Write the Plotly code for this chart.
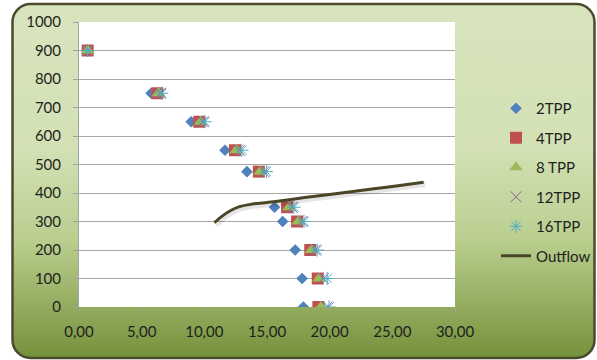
import base64
import plotly.graph_objects as go

# ---- data ----
depth = [900, 750, 650, 550, 475, 350, 300, 200, 100, 0]
tpp2 = [0.69, 5.75, 8.95, 11.65, 13.40, 15.60, 16.25, 17.25, 17.80, 17.90]
tpp4 = [0.69, 6.25, 9.60, 12.45, 14.35, 16.60, 17.40, 18.45, 19.05, 19.10]
tpp8 = [0.69, 6.35, 9.70, 12.55, 14.45, 16.75, 17.50, 18.55, 19.15, 19.30]
tpp12 = [0.69, 6.50, 9.90, 12.80, 14.75, 17.00, 17.80, 18.85, 19.50, 19.80]
tpp16 = [0.69, 6.60, 10.05, 13.00, 14.95, 17.15, 17.95, 19.00, 19.80, 19.95]
outflow_x = [10.8, 11.4, 12.0, 12.8, 13.8, 15.0, 16.0, 18.0, 20.0, 22.0, 25.0, 27.5]
outflow_y = [296, 318, 336, 352, 361, 367, 372, 384, 395, 406, 423, 438]
x_ticks = [0, 5, 10, 15, 20, 25, 30]
y_ticks = list(range(0, 1001, 100))

W, H = 597, 360
ML, MR, MT, MB = 79, 142, 22, 53
PW, PH = W - ML - MR, H - MT - MB

FONT = "Lato, 'Open Sans', sans-serif"

svg = f'''<svg xmlns="http://www.w3.org/2000/svg" width="{W}" height="{H}" viewBox="0 0 {W} {H}">
<defs><linearGradient id="g" x1="0" y1="0" x2="0" y2="1">
<stop offset="0" stop-color="#d8e4bd"/>
<stop offset="0.4" stop-color="#d3e1b5"/>
<stop offset="0.67" stop-color="#b9ce8e"/>
<stop offset="1" stop-color="#74913a"/>
</linearGradient></defs>
<rect x="12.5" y="4" width="{W-15}" height="{H-6}" rx="18" ry="18" fill="url(#g)" stroke="#4c4a2e" stroke-width="2.5"/>
</svg>'''
src = "data:image/svg+xml;base64," + base64.b64encode(svg.encode()).decode()

fig = go.Figure()

def add(name, xs, symbol, color, size, group, lw=0, lc=None):
    fig.add_trace(go.Scatter(
        x=xs, y=depth, mode="markers", name=name, legendgroup=group,
        marker=dict(symbol=symbol, color=color, size=size,
                    line=dict(width=lw, color=lc or color))))

add("2TPP", tpp2, "diamond", "#4f81bd", 9, "a")
add("4TPP", tpp4, "square", "#c0504d", 12, "b")
add("8 TPP", tpp8, "triangle-up", "#9bbb59", 12, "c")
add("12TPP", tpp12, "x-thin-open", "#8064a2", 11, "d", lw=1)
add("16TPP", tpp16, "asterisk-open", "#4bacc6", 11, "e", lw=1)

# soft shadow for the outflow line
fig.add_trace(go.Scatter(
    x=[v + 0.12 for v in outflow_x], y=[v - 8 for v in outflow_y], mode="lines",
    showlegend=False, hoverinfo="skip",
    line=dict(color="rgba(0,0,0,0.10)", width=5, shape="spline", smoothing=0.8)))
fig.add_trace(go.Scatter(
    x=outflow_x, y=outflow_y, mode="lines", name="Outflow", legendgroup="f",
    line=dict(color="#4a4527", width=3, shape="spline", smoothing=0.8)))

fig.update_layout(
    width=W, height=H,
    margin=dict(l=ML, r=MR, t=MT, b=MB, autoexpand=False),
    paper_bgcolor="white",
    plot_bgcolor="rgba(0,0,0,0)",
    separators=",.",
    font=dict(family=FONT, size=15, color="#1e1e1e"),
    images=[dict(source=src, xref="paper", yref="paper",
                 x=-ML / PW, y=1 + MT / PH, sizex=W / PW, sizey=H / PH,
                 xanchor="left", yanchor="top", sizing="stretch", layer="below")],
    shapes=[dict(type="rect", xref="paper", yref="paper", x0=0, x1=1, y0=0, y1=1,
                 fillcolor="white", line=dict(width=0), layer="below")],
    xaxis=dict(range=[0, 30], tickvals=x_ticks, tickformat=".2f",
               showgrid=False, zeroline=False, showline=False,
               ticks="outside", ticklen=5, tickcolor="#a0a0a0",
               ticklabelstandoff=6),
    yaxis=dict(range=[0, 1000], tickvals=y_ticks, showgrid=True,
               gridcolor="#a6a6a6", gridwidth=1, zeroline=False,
               showline=True, linecolor="#a6a6a6", linewidth=1,
               ticks="outside", ticklen=5, tickcolor="#a0a0a0",
               ticklabelstandoff=9),
    legend=dict(x=1 + (496 - ML - PW) / PW, y=1 - (92 - MT) / PH,
                xanchor="left", yanchor="top",
                bgcolor="rgba(0,0,0,0)", tracegroupgap=7,
                font=dict(family=FONT, size=15, color="#1e1e1e")),
)

fig.write_html("out.html", config={"displayModeBar": False},
               post_script="document.body.style.margin='0';document.body.style.overflow='hidden';")
